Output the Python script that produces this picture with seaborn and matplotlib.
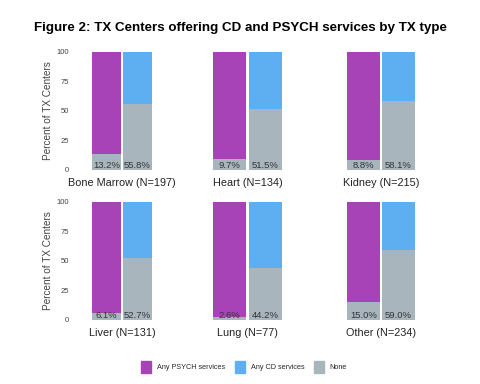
import matplotlib
matplotlib.use("Agg")
import matplotlib.pyplot as plt
import matplotlib.patches as mpatches
import pandas as pd
import seaborn as sns

# Data
tx_types = ["Bone Marrow", "Heart", "Kidney", "Liver", "Lung", "Other"]
n_centers = [197, 134, 215, 131, 77, 234]
psych_none = [13.2, 9.7, 8.8, 6.1, 2.6, 15.0]
cd_none = [55.8, 51.5, 58.1, 52.7, 44.2, 59.0]
services = ["Any PSYCH services", "Any CD services"]

purple = "#A742B7"
blue = "#5DAFF1"
gray = "#A9B5BD"

rows = []
for i, tx in enumerate(tx_types):
    rows.append({"tx": tx, "service": services[0], "total": 100, "none": psych_none[i]})
    rows.append({"tx": tx, "service": services[1], "total": 100, "none": cd_none[i]})
df = pd.DataFrame(rows)

sns.set_style("white")
plt.rcParams["font.family"] = ["Liberation Sans", "DejaVu Sans"]

W, H = 480, 384
fig = plt.figure(figsize=(4.8, 3.84), dpi=100)

# panel pixel boxes (left, right) per column, (top, bottom) per row
cols = [(91, 153), (212, 283), (346, 416)]
rows_px = [(52, 170), (201.7, 320)]

for i, tx in enumerate(tx_types):
    r, c = divmod(i, 3)
    x0, x1 = cols[c]
    y0, y1 = rows_px[r]
    ax = fig.add_axes([x0 / W, 1 - y1 / H, (x1 - x0) / W, (y1 - y0) / H])
    sub = df[df["tx"] == tx]
    sns.barplot(data=sub, x="service", y="total", hue="service",
                palette=[purple, blue], order=services, hue_order=services,
                width=0.94, saturation=1, legend=False, linewidth=0, ax=ax)
    sns.barplot(data=sub, x="service", y="none", order=services, color=gray,
                width=0.94, saturation=1, linewidth=0, ax=ax)
    for j, v in enumerate(sub["none"]):
        ax.text(j, 4, f"{v:.1f}%", ha="center", va="center",
                fontsize=6.8, color="#333333")
    ax.set_xlim(-0.5, 1.5)
    ax.set_ylim(0, 100)
    ax.set_xticks([])
    ax.set_xlabel("")
    sns.despine(ax=ax, left=True, bottom=True)
    if c == 0:
        ax.set_yticks([0, 25, 50, 75, 100])
        ax.tick_params(axis="y", length=0, pad=16, labelsize=5.5, labelcolor="#444444")
        ax.set_ylabel("Percent of TX Centers", fontsize=7.2, color="#444444")
        ax.yaxis.set_label_coords((53 - x0) / (x1 - x0), 0.5)
    else:
        ax.set_yticks([])
        ax.set_ylabel("")
    ax.text(0.5, -(13 / (y1 - y0)), f"{tx} (N={n_centers[i]})",
            transform=ax.transAxes, ha="center", va="center",
            fontsize=7.8, color="#222222")

fig.text(0.5, 1 - 28 / H, "Figure 2: TX Centers offering CD and PSYCH services by TX type",
         ha="center", va="center", fontsize=9.6, fontweight="bold", color="black")

handles = [mpatches.Patch(color=purple, label="Any PSYCH services"),
           mpatches.Patch(color=blue, label="Any CD services"),
           mpatches.Patch(color=gray, label="None")]
fig.legend(handles=handles, loc="center", bbox_to_anchor=(244 / W, 1 - 367 / H),
           ncol=3, frameon=False, fontsize=5.2, handlelength=1.4, handleheight=2.0,
           handletextpad=0.8, columnspacing=1.3)

fig.savefig("out.png", dpi=100)
